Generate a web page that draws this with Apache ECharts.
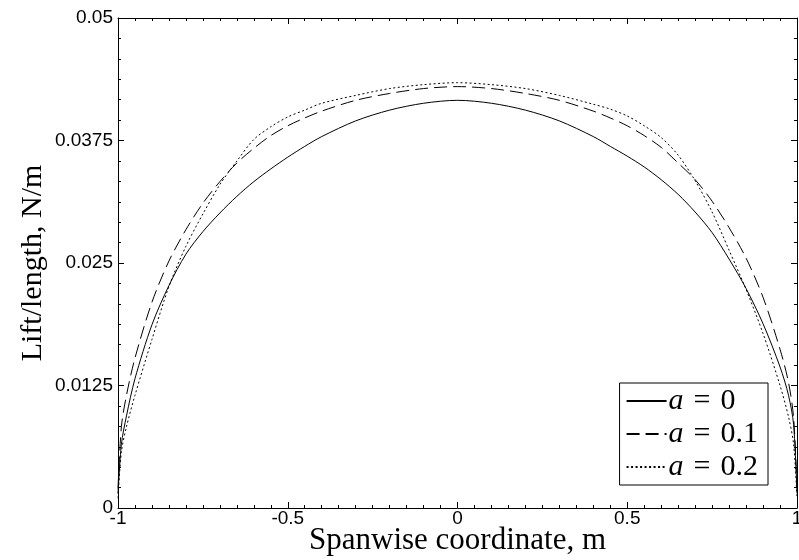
<!DOCTYPE html>
<html>
<head>
<meta charset="utf-8">
<script src="https://cdn.jsdelivr.net/npm/echarts@6/dist/echarts.min.js"></script>
<style>html,body{margin:0;padding:0;background:#fff}#c{width:799px;height:560px}</style>
</head>
<body>
<div id="c"></div>
<script>
// Spanwise coordinate (m)
var xs = [-1, -0.99, -0.975, -0.95, -0.9, -0.85, -0.8, -0.75, -0.7, -0.65, -0.6, -0.55, -0.5, -0.45, -0.4, -0.3, -0.2, -0.1, 0,
          0.1, 0.2, 0.3, 0.4, 0.45, 0.5, 0.55, 0.6, 0.65, 0.7, 0.75, 0.8, 0.85, 0.9, 0.95, 0.975, 0.99, 1];
// Lift/length (N/m)
var a0  = [0.0015, 0.0065, 0.0094, 0.0132, 0.0187, 0.0227, 0.0259, 0.0282, 0.0301, 0.0318, 0.0333, 0.0346, 0.0358, 0.0369, 0.0379, 0.0395, 0.0406, 0.0413, 0.0416,
           0.0413, 0.0406, 0.0395, 0.0379, 0.0369, 0.0359, 0.0348, 0.0335, 0.0320, 0.0302, 0.0281, 0.0254, 0.0224, 0.0188, 0.0144, 0.0115, 0.0085, 0.0015];
var a01 = [0.0020, 0.0083, 0.0115, 0.0153, 0.0210, 0.0252, 0.0284, 0.0311, 0.0333, 0.0352, 0.0367, 0.0380, 0.0390, 0.0398, 0.0405, 0.0416, 0.0423, 0.0428, 0.0430,
           0.0428, 0.0423, 0.0416, 0.0405, 0.0398, 0.0390, 0.0380, 0.0368, 0.0352, 0.0335, 0.0313, 0.0286, 0.0255, 0.0215, 0.0162, 0.0128, 0.0092, 0.0020];
var a02 = [0.0010, 0.0057, 0.0083, 0.0115, 0.0172, 0.0226, 0.0267, 0.0300, 0.0330, 0.0354, 0.0376, 0.0389, 0.0399, 0.0406, 0.0413, 0.0421, 0.0428, 0.0432, 0.0434,
           0.0432, 0.0428, 0.0421, 0.0412, 0.0407, 0.0400, 0.0390, 0.0378, 0.0360, 0.0334, 0.0302, 0.0263, 0.0223, 0.0178, 0.0125, 0.0093, 0.0065, 0.0010];
var names = ['a0', 'a01', 'a02'];
var legendValues = ['0', '0.1', '0.2'];
var yTicks = [0, 0.0125, 0.025, 0.0375, 0.05];

function pairs(ys){ return xs.map(function(x,i){ return [x, ys[i]]; }); }

var chart = echarts.init(document.getElementById('c'), null, {renderer:'canvas'});
var tickFont = {fontFamily:'Liberation Sans, Arial, sans-serif', fontSize:19, color:'#000'};
var serif = 'Liberation Serif, DejaVu Serif, serif';
var axisLineStyle = {color:'#000', width:1};
var sp = '\u2004';

var option = {
  animation:false,
  backgroundColor:'#fff',
  grid:{left:118, right:2, top:18, bottom:52, containLabel:false, outerBoundsMode:'none'},
  xAxis:[{
    type:'value', min:-1, max:1, interval:0.5,
    name:'Spanwise coordinate, m', nameLocation:'middle', nameGap:17, nameMoveOverlap:false,
    nameTextStyle:{fontFamily:serif, fontSize:31, color:'#000', verticalAlign:'top'},
    axisLine:{show:true, onZero:false, lineStyle:axisLineStyle},
    axisTick:{show:true, inside:true, length:6, lineStyle:axisLineStyle},
    minorTick:{show:true, splitNumber:10, length:3, lineStyle:axisLineStyle},
    splitLine:{show:false},
    axisLabel:Object.assign({margin:1, formatter:function(v){return String(v);}}, tickFont)
  },{
    type:'value', min:-1, max:1, interval:0.5, position:'top',
    axisLine:{show:true, onZero:false, lineStyle:axisLineStyle},
    axisTick:{show:true, inside:true, length:6, lineStyle:axisLineStyle},
    minorTick:{show:true, splitNumber:10, length:3, lineStyle:axisLineStyle},
    splitLine:{show:false}, axisLabel:{show:false}
  }],
  yAxis:[{
    type:'value', min:0, max:0.05, interval:0.0125,
    name:'Lift/length, N/m', nameLocation:'middle', nameGap:70, nameMoveOverlap:false,
    nameTextStyle:{fontFamily:serif, fontSize:30, color:'#000'},
    axisLine:{show:true, onZero:false, lineStyle:axisLineStyle},
    axisTick:{show:true, inside:true, length:6, lineStyle:axisLineStyle},
    minorTick:{show:true, splitNumber:6, length:3, lineStyle:axisLineStyle},
    splitLine:{show:false},
    axisLabel:Object.assign({margin:5, formatter:function(v){
      var best = yTicks.reduce(function(p,c){return Math.abs(c-v)<Math.abs(p-v)?c:p;});
      return String(best);
    }}, tickFont)
  },{
    type:'value', min:0, max:0.05, interval:0.0125, position:'right',
    axisLine:{show:true, onZero:false, lineStyle:axisLineStyle},
    axisTick:{show:true, inside:true, length:6, lineStyle:axisLineStyle},
    minorTick:{show:true, splitNumber:6, length:3, lineStyle:axisLineStyle},
    splitLine:{show:false}, axisLabel:{show:false}
  }],
  legend:{
    show:true, orient:'vertical', right:31, bottom:75,
    backgroundColor:'#fff', borderColor:'#000', borderWidth:1,
    padding:[3,10,3,6], itemGap:3, itemWidth:40, itemHeight:14,
    itemStyle:{opacity:0},
    data:names,
    formatter:function(n){ return '{i|a}' + sp + '=' + sp + legendValues[names.indexOf(n)]; },
    textStyle:{fontFamily:serif, fontSize:30, color:'#000', padding:[0,0,0,-3],
      rich:{i:{fontFamily:serif, fontStyle:'italic', fontSize:30, color:'#000'}}}
  },
  series:[
    {name:'a0', type:'line', data:pairs(a0), showSymbol:false, symbol:'none', smooth:0.3,
     lineStyle:{color:'#000', width:1, type:'solid'}, itemStyle:{color:'#000'}},
    {name:'a01', type:'line', data:pairs(a01), showSymbol:false, symbol:'none', smooth:0.3,
     lineStyle:{color:'#000', width:1, type:[13,6]}, itemStyle:{color:'#000'}},
    {name:'a02', type:'line', data:pairs(a02), showSymbol:false, symbol:'none', smooth:0.3,
     lineStyle:{color:'#000', width:1, type:[2,2.5]}, itemStyle:{color:'#000'}}
  ]
};
chart.setOption(option);
</script>
</body>
</html>
